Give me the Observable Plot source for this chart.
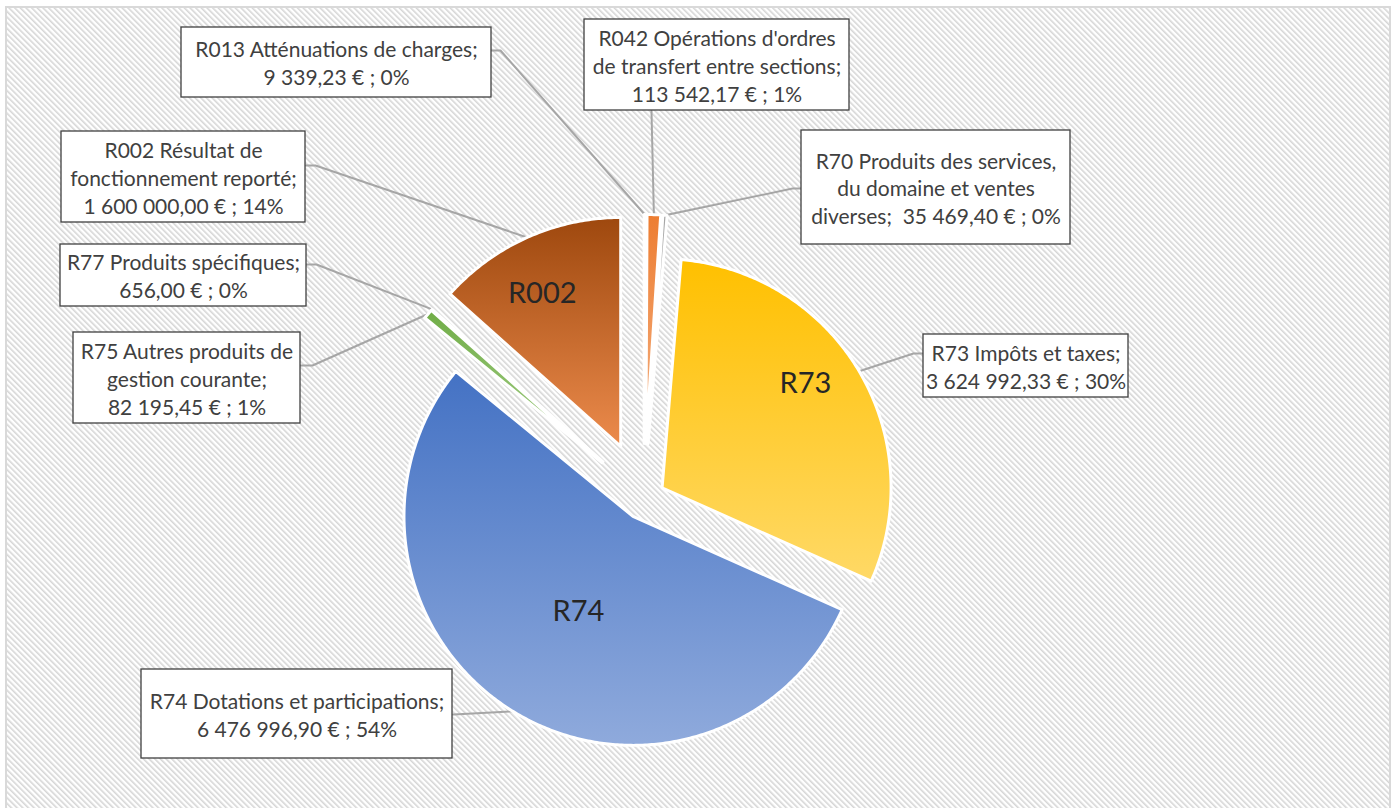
<!DOCTYPE html>
<html><head><meta charset="utf-8">
<script src="https://cdn.jsdelivr.net/npm/d3@7"></script>
<script src="https://cdn.jsdelivr.net/npm/@observablehq/plot@0.6"></script>
<style>
html,body{margin:0;padding:0;background:#fff;}
#chart svg{display:block;}
</style></head><body><div id="chart"></div>
<script>
// ---------- DATA ----------
const codes = ["R013","R042","R70","R73","R74","R75","R77","R002"];
const names = [
  "R013 Atténuations de charges",
  "R042 Opérations d'ordres\nde transfert entre sections",
  "R70 Produits des services,\ndu domaine et ventes\ndiverses",
  "R73 Impôts et taxes",
  "R74 Dotations et participations",
  "R75 Autres produits de\ngestion courante",
  "R77 Produits spécifiques",
  "R002 Résultat de\nfonctionnement reporté"
];
const amounts = [9339.23, 113542.17, 35469.40, 3624992.33, 6476996.90, 82195.45, 656.00, 1600000.00];
const percentLabels = [0, 1, 0, 30, 54, 1, 0, 14];
const sliceLabels = ["", "", "", "R73", "R74", "", "", "R002"];

// ---------- LAYOUT / STYLE ----------
const W = 1397, H = 808;
const pieGeo = {cx: 643.5, cy: 498, r: 229};
const explode = [55, 55, 55, 21, 21, 55, 55, 57];
const valueSep = [";\n", ";\n", ";  ", ";\n", ";\n", ";\n", ";\n", ";\n"];
const gradients = [
  ["#4472C4", "#8FAADC"],
  ["#ED7D31", "#F4B183"],
  ["#A5A5A5", "#DBDBDB"],
  ["#FFC000", "#FFD966"],
  ["#4472C4", "#8FAADC"],
  ["#70AD47", "#A9D18E"],
  ["#264478", "#8FAADC"],
  ["#9E480E", "#EC8B4C"]
];
const boxes = [
  [181, 27, 491, 97],
  [584, 19, 849, 110],
  [801, 130, 1070, 244],
  [923, 334, 1128, 397],
  [141, 669, 452, 758],
  [73, 332, 300, 423],
  [60, 244, 306, 306],
  [61, 131, 305, 222]
];
const leaderStart = [
  [[491, 50], [500, 50]],
  [[651, 110], [651, 111]],
  [[801, 188], [792, 188]],
  [[923, 353], [913, 353]],
  [[452, 714], [453, 714]],
  [[300, 365], [312, 365]],
  [[306, 264], [316, 264]],
  [[305, 165], [315, 165]]
];
// slice-name label placement: [fraction of radius, angle in degrees]
const sliceLabelPolar = [null, null, null, [0.775, 53.9], [0.48, 209.7], null, null, [0.75, 332.8]];

// ---------- BUILD ----------
const locale = d3.formatLocale({decimal: ",", thousands: "\u00a0", grouping: [3], currency: ["", " €"]});
const fmt = locale.format(",.2f");

const arcs = d3.pie().sort(null).value(d => d)(amounts);
const rows = codes.map((c, i) => {
  const a0 = arcs[i].startAngle, a1 = arcs[i].endAngle, am = (a0 + a1) / 2;
  const ox = pieGeo.cx + explode[i] * Math.sin(am);
  const oy = pieGeo.cy - explode[i] * Math.cos(am);
  const pts = [{x: ox, y: oy}];
  const n = Math.max(2, Math.ceil((a1 - a0) / 0.01));
  for (let k = 0; k <= n; k++) {
    const a = a0 + (a1 - a0) * k / n;
    pts.push({x: ox + pieGeo.r * Math.sin(a), y: oy - pieGeo.r * Math.cos(a)});
  }
  const tip = {x: ox + pieGeo.r * Math.sin(am), y: oy - pieGeo.r * Math.cos(am)};
  let lab = null;
  if (sliceLabelPolar[i]) {
    const [f, deg] = sliceLabelPolar[i];
    const ang = deg * Math.PI / 180;
    lab = {x: ox + f * pieGeo.r * Math.sin(ang), y: oy - f * pieGeo.r * Math.cos(ang), text: sliceLabels[i]};
  }
  const [x1, y1, x2, y2] = boxes[i];
  return {
    code: c, pts, tip, lab,
    box: {x1, y1, x2, y2, cx: (x1 + x2) / 2, cy: (y1 + y2) / 2,
      text: names[i] + valueSep[i] + fmt(amounts[i]) + " € ; " + percentLabels[i] + "%"},
    leader: [
      {x: leaderStart[i][0][0], y: leaderStart[i][0][1]},
      {x: leaderStart[i][1][0], y: leaderStart[i][1][1]},
      tip
    ]
  };
});

const marks = [
  Plot.rect([{x1: 6, x2: 1390, y1: 7, y2: 830}], {x1: "x1", x2: "x2", y1: "y1", y2: "y2", fill: "url(#hatch)", stroke: "#d9d9d9", strokeWidth: 2}),
  ...rows.map((r) => Plot.line(r.leader, {x: "x", y: "y", stroke: "#a6a6a6", strokeWidth: 2, curve: "linear"})),
  ...rows.map((r, i) => Plot.line(r.pts, {x: "x", y: "y", fill: `url(#g${i})`, stroke: "white", strokeWidth: 3, curve: "linear-closed"})),
  Plot.text(rows.filter(r => r.lab).map(r => r.lab), {x: "x", y: "y", text: "text", fontSize: 29, fill: "#262626"}),
  Plot.rect(rows.map(r => r.box), {x1: "x1", x2: "x2", y1: "y1", y2: "y2", fill: "white", stroke: "#404040", strokeWidth: 1.3}),
  Plot.text(rows.map(r => r.box), {x: "cx", y: "cy", text: "text", fontSize: 21, lineHeight: 1.33, fill: "#404040"})
];

const svg = Plot.plot({
  width: W, height: H,
  marginTop: 0, marginRight: 0, marginBottom: 0, marginLeft: 0,
  x: {domain: [0, W], range: [0, W], axis: null},
  y: {domain: [0, H], range: [0, H], axis: null},
  style: {fontFamily: "Lato, 'Open Sans', sans-serif", background: "white"},
  marks
});

const defs = d3.select(svg).insert("defs", ":first-child");
const pat = defs.append("pattern").attr("id", "hatch").attr("patternUnits", "userSpaceOnUse")
  .attr("width", 4).attr("height", 4).attr("patternTransform", "rotate(-45)");
pat.append("rect").attr("width", 4).attr("height", 4).attr("fill", "#ffffff");
pat.append("rect").attr("width", 1.6).attr("height", 4).attr("fill", "#d6d6d6");
gradients.forEach(([c0, c1], i) => {
  const g = defs.append("linearGradient").attr("id", `g${i}`).attr("x1", 0).attr("y1", 0).attr("x2", 0).attr("y2", 1);
  g.append("stop").attr("offset", "0%").attr("stop-color", c0);
  g.append("stop").attr("offset", "100%").attr("stop-color", c1);
});

document.getElementById("chart").appendChild(svg);
</script>
</body></html>
